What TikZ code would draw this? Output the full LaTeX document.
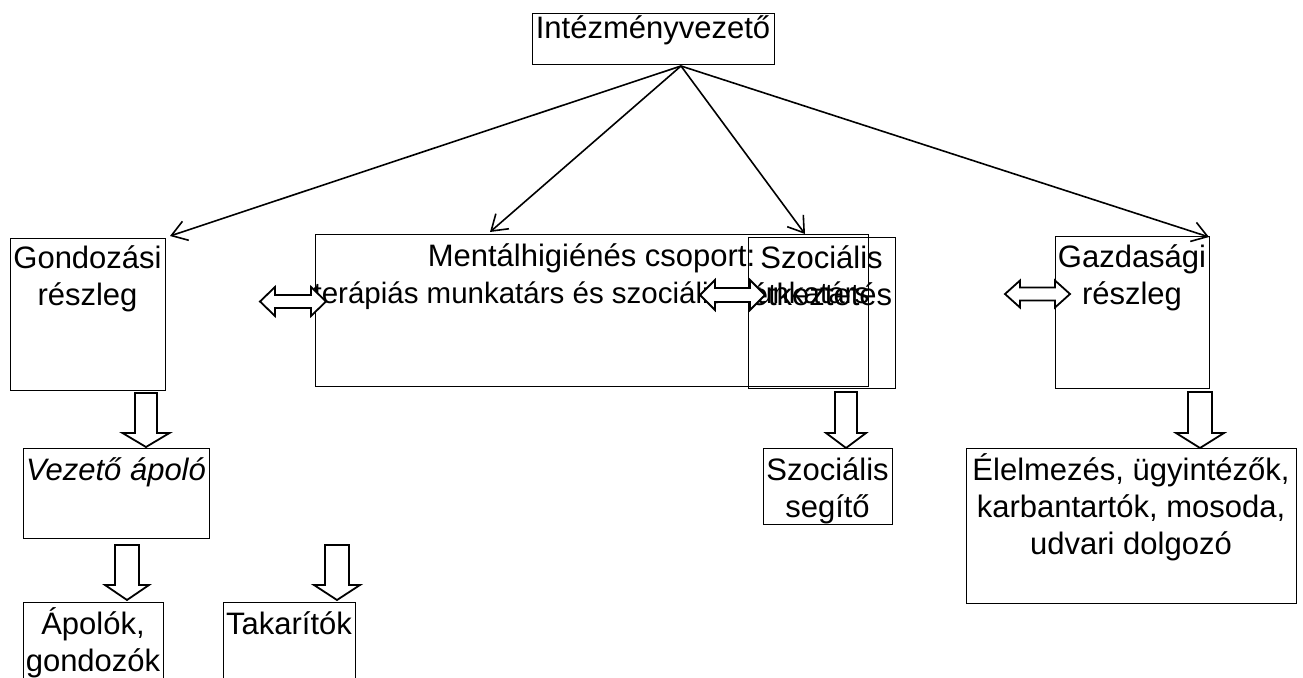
\documentclass[tikz,border=0pt]{standalone}
\usepackage{fontspec}
\setmainfont{Liberation Sans}
\usetikzlibrary{arrows.meta}
\newcommand\dnblock[6]{% cx, top, headstart, tip, shafthalf, headhalf
  \draw[blk] ({#1-#5},#2) -- ({#1+#5},#2) -- ({#1+#5},#3) -- ({#1+#6},#3) -- (#1,#4)
    -- ({#1-#6},#3) -- ({#1-#5},#3) -- cycle;}
\newcommand\lrblock[6]{% xl, xr, cy, shafthalf, headhalf, headlen
  \draw[blk] (#1,#3) -- ({#1+#6},{#3-#5}) -- ({#1+#6},{#3-#4}) -- ({#2-#6},{#3-#4})
    -- ({#2-#6},{#3-#5}) -- (#2,#3) -- ({#2-#6},{#3+#5}) -- ({#2-#6},{#3+#4})
    -- ({#1+#6},{#3+#4}) -- ({#1+#6},{#3+#5}) -- cycle;}
\begin{document}
\begin{tikzpicture}[x=1pt,y=-1pt,
  box/.style={draw=black,line width=1.3pt,rectangle,inner sep=0pt,anchor=north west},
  txt/.style={inner sep=0pt,anchor=base,font=\fontsize{31}{37}\selectfont},
  txts/.style={inner sep=0pt,anchor=base,font=\fontsize{29.5}{36}\selectfont},
  conn/.style={draw=black,line width=1.6pt,-{Straight Barb[length=15pt,width=20pt,line width=1.6pt]}},
  blk/.style={draw=black,fill=white,line width=1.8pt,line join=miter}]
\useasboundingbox (0,0) rectangle (1303,677);
\clip (0,0) rectangle (1303,677);
\fill[white] (0,0) rectangle (1303,677);

% boxes
\node[box,minimum width=242pt,minimum height=51pt] (ceo) at (532,13) {};
\node[box,minimum width=155pt,minimum height=152pt] (gond) at (10,238) {};
\node[box,minimum width=553pt,minimum height=152pt] (ment) at (315,234) {};
\node[box,minimum width=147pt,minimum height=151pt] (szoc) at (748,237) {};
\node[box,minimum width=154pt,minimum height=152pt] (gazd) at (1055,236) {};
\node[box,minimum width=186pt,minimum height=90pt] (vez) at (23,448) {};
\node[box,minimum width=140pt,minimum height=100pt] (apol) at (23,602) {};
\node[box,minimum width=132pt,minimum height=100pt] (tak) at (223,602) {};
\node[box,minimum width=129pt,minimum height=76pt] (szseg) at (763,448) {};
\node[box,minimum width=330pt,minimum height=155pt] (elel) at (966,448) {};

% texts
\node[txt] (ceo-t) at (653,39) {Intézményvezető};
\node[txt] (gond-t1) at (87.5,268) {Gondozási};
\node[txt] (gond-t2) at (87.5,305) {részleg};
\node[txt] (ment-t1) at (591.5,266) {Mentálhigiénés csoport:};
\node[txts] (ment-t2) at (591.5,303) {terápiás munkatárs és szociális munkatárs};
\node[txt] (szoc-t1) at (821.5,268) {Szociális};
\node[txt] (szoc-t2) at (821.5,305) {étkeztetés};
\node[txt] (gazd-t1) at (1132,267) {Gazdasági};
\node[txt] (gazd-t2) at (1132,304) {részleg};
\node[txt] (vez-t) at (116,480) {\itshape Vezető ápoló};
\node[txt] (apol-t1) at (93,634) {Ápolók,};
\node[txt] (apol-t2) at (93,671) {gondozók};
\node[txt] (tak-t) at (289,634) {Takarítók};
\node[txt] (szseg-t1) at (827.5,480) {Szociális};
\node[txt] (szseg-t2) at (827.5,517) {segítő};
\node[txt] (elel-t1) at (1131,480) {Élelmezés, ügyintézők,};
\node[txt] (elel-t2) at (1131,517) {karbantartók, mosoda,};
\node[txt] (elel-t3) at (1131,554) {udvari dolgozó};

% connectors from the head
\coordinate (apex) at (681,66);
\coordinate (gond-in) at (170,236);
\coordinate (ment-in) at (490,232);
\coordinate (szoc-in) at (805,234);
\coordinate (gazd-in) at (1209,237);
\draw[conn] (apex) -- (gond-in);
\draw[conn] (apex) -- (ment-in);
\draw[conn] (apex) -- (szoc-in);
\draw[conn] (apex) -- (gazd-in);

% block arrows
\lrblock{260}{326}{301.5}{6.5}{14.5}{15}
\lrblock{700}{765}{295}{7}{15}{15}
\lrblock{1005}{1070}{294}{6.5}{13.5}{15}
\dnblock{146}{393}{433}{447}{11}{23.5}
\dnblock{127}{545}{585}{600}{12}{22}
\dnblock{337}{545}{585}{600}{12}{23}
\dnblock{846}{392}{433}{448}{11}{20}
\dnblock{1200}{392}{433}{448}{12}{24}
\end{tikzpicture}
\end{document}
